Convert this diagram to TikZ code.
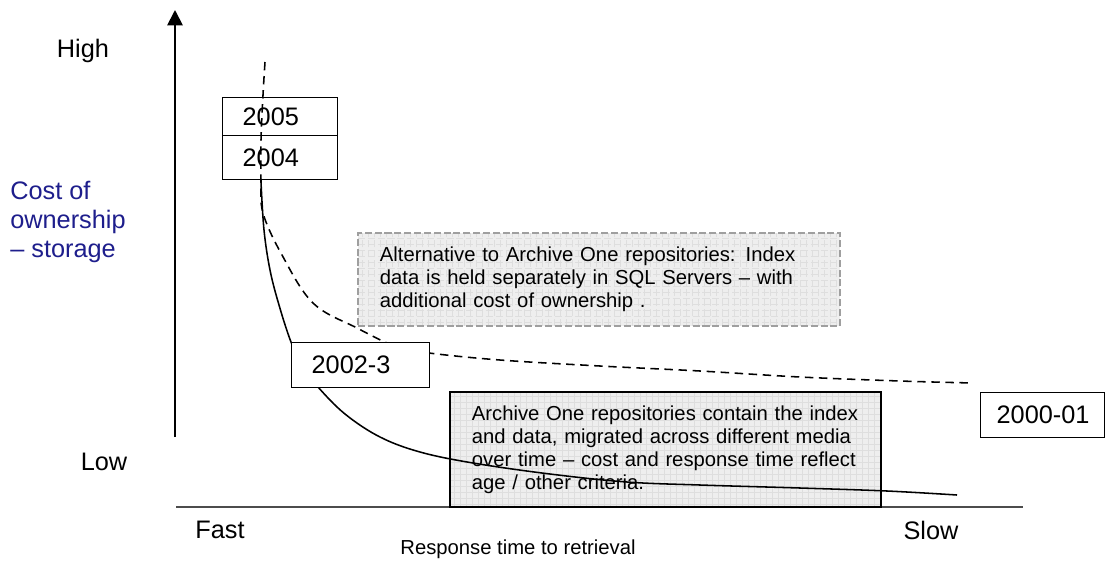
\documentclass[tikz,border=0pt]{standalone}
\usepackage{fontspec}
\setmainfont{Liberation Sans}
\usetikzlibrary{arrows.meta}
\definecolor{ownblue}{RGB}{30,30,140}
\begin{document}
\begin{tikzpicture}[x=0.025cm, y=-0.025cm,
  biglabel/.style={font=\fontsize{18}{20.6}\selectfont, inner sep=0pt},
  yearbox/.style={draw, line width=0.9pt, anchor=north west, inner xsep=0.5cm, inner ysep=0pt,
    align=left, font=\fontsize{18}{20}\selectfont},
  notebox/.style={fill=gray!13, inner xsep=0.55cm, align=left, font=\fontsize{14.4}{16.4}\selectfont,
    path picture={\draw[gray!26, line width=0.25pt, step=0.15cm]
      (path picture bounding box.south west) grid (path picture bounding box.north east);}},
  curve/.style={line width=1.1pt, line join=round}]
  \useasboundingbox (0,0) rectangle (1108,560);

  % Axes and their labels
  \coordinate (ybot) at (175,437);
  \coordinate (ytop) at (175,10);
  \coordinate (xleft) at (176,507);
  \coordinate (xright) at (1023,507);
  \draw[line width=1.3pt, -{Triangle[width=11pt, length=11pt]}] (ybot) -- (ytop);
  \draw[line width=1.3pt, gray!60!black] (xleft) -- (xright);

  \node[biglabel] (high) at (83,51) {High};
  \node[biglabel, text=ownblue, anchor=west, align=left] (cost) at (10,222) {Cost of\\ownership\\– storage};
  \node[biglabel] (low) at (104,462) {Low};
  \node[biglabel] (fast) at (220,530) {Fast};
  \node[biglabel] (slow) at (931,530) {Slow};
  \node[font=\fontsize{14.4}{16}\selectfont, inner sep=0pt] (resp) at (518,549) {Response time to retrieval};

  % Shaded notes
  \node[notebox, draw=gray!75, dashed, dash pattern=on 5pt off 2pt, line width=0.9pt,
    minimum width=12.05cm, minimum height=2.325cm, text width=10.95cm] (alt) at (599,279.5)
    {Alternative to Archive One repositories: Index\\data is held separately in SQL Servers – with\\additional cost of ownership .};
  \node[notebox, draw, line width=1pt,
    minimum width=10.725cm, minimum height=2.875cm, text width=9.675cm] (arch) at (665.5,449.5)
    {Archive One repositories contain the index\\and data, migrated across different media\\over time – cost and response time reflect\\age / other criteria.};

  % Cost curves
  \draw[curve] plot[smooth, tension=0.6] coordinates {(261,182) (264,230) (270,270) (279,305) (291,342)
    (303,367) (318,387) (345,414) (380,437) (420,452) (473,463) (550,474) (627,482) (700,485)
    (800,488) (887,491) (957,495)};
  \draw[curve, dash pattern=on 6pt off 4pt] plot[smooth, tension=0.6] coordinates {(265,62) (263,95)
    (261,140) (261,180) (263,213) (282,255) (313,303) (357,328) (397,347) (429,353) (500,360)
    (600,366) (700,371) (800,377) (900,381) (973,383)};

  % Year boxes
  \node[yearbox, minimum height=0.95cm, text width=1.875cm] (y2005) at (222,97) {2005};
  \node[yearbox, minimum height=1.1cm, text width=1.875cm] (y2004) at (222,135) {2004};
  \node[yearbox, fill=white, minimum height=1.125cm, text width=2.45cm] (y2002) at (291,342) {\mbox{2002-3}};
  \node[yearbox, fill=white, minimum height=1.125cm, text width=2.3cm, inner xsep=0.4cm] (y2000) at (980,392) {\mbox{2000-01}};
\end{tikzpicture}
\end{document}
